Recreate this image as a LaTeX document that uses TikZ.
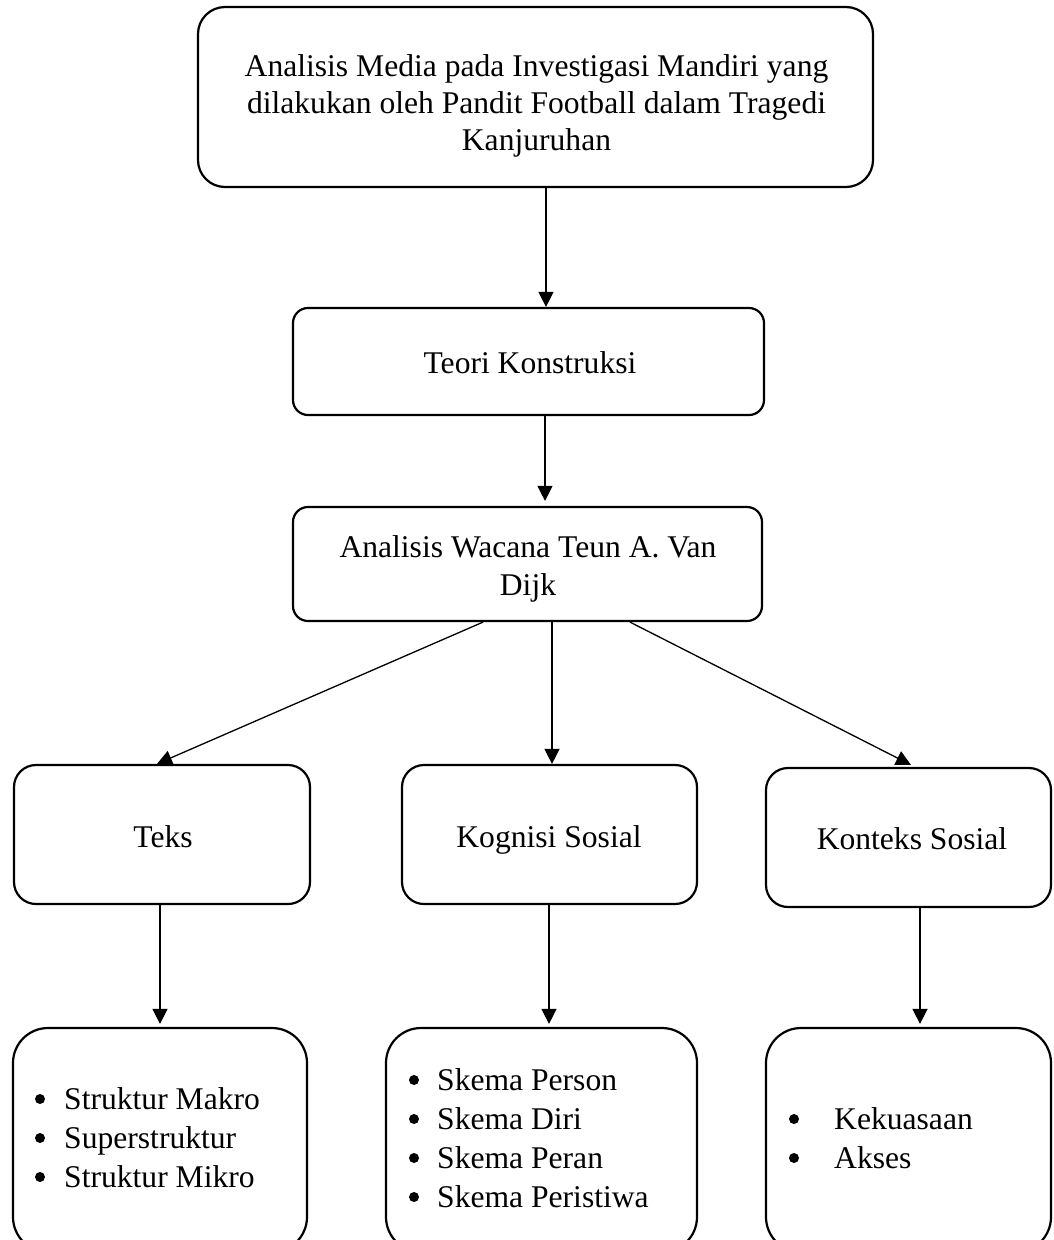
\documentclass[tikz,border=0pt]{standalone}
\usepackage{fontspec}
\setmainfont{Liberation Serif}
\usetikzlibrary{arrows.meta}
\newcommand{\bigtxt}{\fontsize{31.6}{37}\selectfont}
\newcommand{\listtxt}{\fontsize{31.6}{39}\selectfont}
\begin{document}
\begin{tikzpicture}[x=1pt,y=-1pt,
  box/.style={draw, line width=2.2pt, rounded corners=#1, inner sep=0pt},
  lbl/.style={inner sep=0pt, anchor=base, font=\bigtxt},
  lst/.style={inner sep=0pt, anchor=base west, font=\listtxt},
  dot/.style={fill=black},
  arr/.style={line width=1.3pt, -{Triangle[width=15pt,length=15pt]}}]
\useasboundingbox (0,0) rectangle (1053,1240);
\clip (0,0) rectangle (1053,1240);
\fill[white] (0,0) rectangle (1053,1240);

% boxes
\node[box=27pt, minimum width=675pt, minimum height=180pt] (top) at (535.5,97) {};
\node[box=15pt, minimum width=471pt, minimum height=107pt] (teori) at (528.5,361.5) {};
\node[box=15pt, minimum width=469pt, minimum height=114pt] (anal) at (527.5,564) {};
\node[box=22pt, minimum width=296pt, minimum height=139pt] (teks) at (162,834.5) {};
\node[box=22pt, minimum width=295pt, minimum height=139pt] (kog) at (549.5,834.5) {};
\node[box=22pt, minimum width=285pt, minimum height=139pt] (kon) at (908.5,837.5) {};
\node[box=35pt, minimum width=294pt, minimum height=224pt] (ltek) at (160,1140) {};
\node[box=35pt, minimum width=311pt, minimum height=224pt] (lkog) at (541.5,1140) {};
\node[box=35pt, minimum width=285pt, minimum height=224pt] (lkon) at (908.5,1140) {};

% texts
\node[lbl] (ttop) at (536.5,76) {\begin{tabular}[t]{@{}c@{}}Analisis Media pada Investigasi Mandiri yang\\ dilakukan oleh Pandit Football dalam Tragedi\\ Kanjuruhan\end{tabular}};
\node[lbl] (tteori) at (530,373) {Teori Konstruksi};
\node[lbl, font=\fontsize{31.6}{38}\selectfont] (tanal) at (528,557) {\begin{tabular}[t]{@{}c@{}}Analisis Wacana Teun A. Van\\ Dijk\end{tabular}};
\node[lbl] (tteks) at (163,847) {Teks};
\node[lbl] (tkog) at (549,847) {Kognisi Sosial};
\node[lbl] (tkon) at (912,849) {Konteks Sosial};

% bullet lists
\node[lst] (ltxt) at (64,1109) {\begin{tabular}[t]{@{}l@{}}Struktur Makro\\ Superstruktur\\ Struktur Mikro\end{tabular}};
\node[lst] (mtxt) at (437,1090) {\begin{tabular}[t]{@{}l@{}}Skema Person\\ Skema Diri\\ Skema Peran\\ Skema Peristiwa\end{tabular}};
\node[lst] (rtxt) at (834,1129) {\begin{tabular}[t]{@{}l@{}}Kekuasaan\\ Akses\end{tabular}};
\foreach \yy in {1099,1138,1177} \fill[dot] (40,\yy) circle[radius=5pt];
\foreach \yy in {1080,1119,1158,1197} \fill[dot] (414,\yy) circle[radius=5pt];
\foreach \yy in {1119,1158} \fill[dot] (794,\yy) circle[radius=5pt];

% connectors
\draw[arr] ([xshift=10.5pt]top.south) -- ([xshift=17.5pt]teori.north);
\draw[arr] ([xshift=16.5pt]teori.south) -- ([xshift=17.5pt,yshift=5pt]anal.north);
\draw[arr] ([xshift=-44.5pt]anal.south) -- ([xshift=-5pt]teks.north);
\draw[arr] ([xshift=24.5pt]anal.south) -- ([xshift=2.5pt]kog.north);
\draw[arr] ([xshift=102.5pt]anal.south) -- ([xshift=2.5pt,yshift=2pt]kon.north);
\draw[arr] ([xshift=-2pt]teks.south) -- ([yshift=3pt]ltek.north);
\draw[arr] ([xshift=-0.5pt]kog.south) -- ([xshift=7.5pt,yshift=3pt]lkog.north);
\draw[arr] ([xshift=11.5pt]kon.south) -- ([xshift=11.5pt,yshift=3pt]lkon.north);
\end{tikzpicture}
\end{document}
